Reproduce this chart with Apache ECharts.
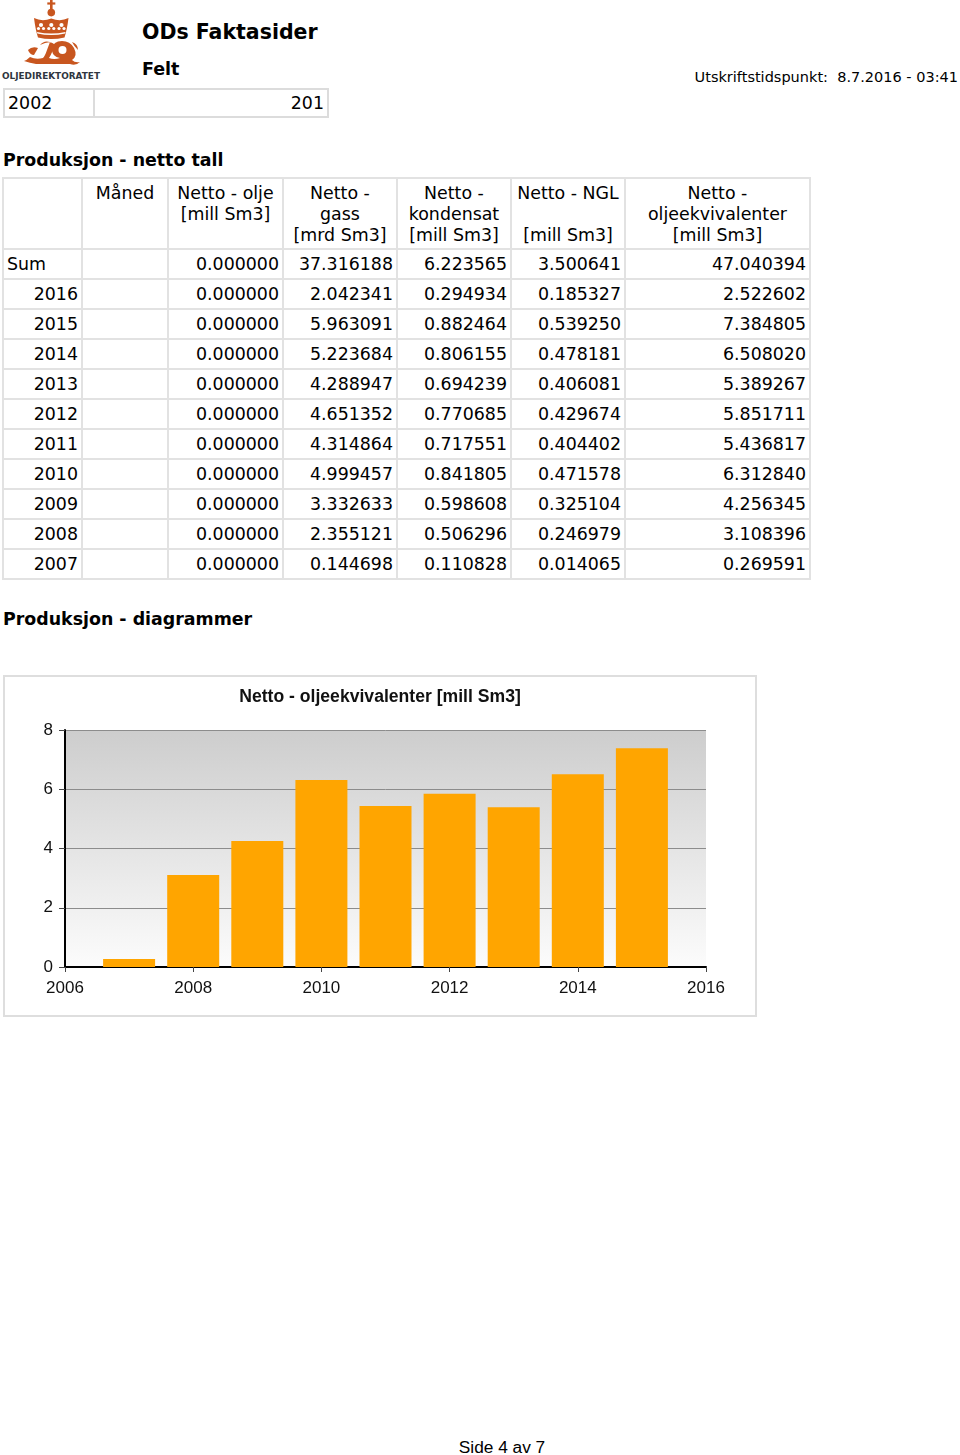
<!DOCTYPE html>
<html>
<head>
<meta charset="utf-8">
<script src="https://cdn.jsdelivr.net/npm/echarts@6/dist/echarts.min.js"></script>
<style>
  html, body { margin: 0; padding: 0; background: #fff; }
  body { width: 960px; height: 1455px; position: relative; overflow: hidden; font-family: "DejaVu Sans", Verdana, sans-serif; color: #000; }
  .abs { position: absolute; white-space: nowrap; }
  #logo { position: absolute; left: 0; top: 0; width: 104px; height: 84px; }
  #title1 { left: 142px; top: 20px; font-weight: bold; font-size: 20.5px; }
  #title2 { left: 142px; top: 59px; font-weight: bold; font-size: 17.5px; }
  #printed { right: 2px; top: 69px; font-size: 14.5px; }
  #feltbox { position: absolute; left: 3px; top: 88px; border-collapse: collapse; }
  #feltbox td { border: 2px solid #dcdcdc; height: 26px; padding: 0 3px; font-size: 17.4px; line-height: 26px; }
  #h1 { left: 3px; top: 150px; font-weight: bold; font-size: 17.4px; }
  #h2 { left: 3px; top: 609px; font-weight: bold; font-size: 17.4px; }
  #tbl { position: absolute; left: 2px; top: 177px; border-collapse: collapse; table-layout: fixed; }
  #tbl td, #tbl th { border: 2px solid #e2e2e2; font-size: 17.4px; padding: 0 3px; white-space: nowrap; overflow: hidden; }
  #tbl th { font-weight: normal; vertical-align: top; text-align: center; line-height: 21px; padding-top: 4px; height: 65px; }
  #tbl td { height: 28px; line-height: 28px; text-align: right; }
  #tbl td.sum { text-align: left; }
  #chartwrap { position: absolute; left: 3px; top: 675px; width: 750px; height: 338px; border: 2px solid #dedede; }
  #chart { width: 750px; height: 338px; }
  #footer { left: 0; width: 1004px; text-align: center; top: 1441px; line-height: 13px; font-family: "Liberation Sans", Arial, sans-serif; font-size: 17.3px; }
</style>
</head>
<body>
<svg id="logo" viewBox="0 0 104 84" xmlns="http://www.w3.org/2000/svg">
  <g fill="#c8561f">
    <rect x="50" y="0" width="2.6" height="9"/>
    <rect x="47.3" y="2.4" width="8" height="2.2"/>
    <circle cx="51.3" cy="12.6" r="3.8"/>
    <path d="M34 18 Q42 22 51.3 18.5 Q60.5 22 68.5 18 Q67 30 64.5 37.5 Q51.3 40.5 38 37.5 Q35.5 30 34 18 Z"/>
    <path d="M40 45 Q44 40 50 42 L47 50 Q45 56 43 58 Q36 60 30 57 Q27 60 24 61 Q30 63 36 64 L70 64 Q76 66 80 62 Q75 63 72 60 Q78 56 74 48 Q70 41 62 41 Q53 41 52 49 Q52 57 60 58 Q54 60 49 58 Q53 52 54 44 Q50 40 40 45 Z"/>
    <path d="M28 50 Q32 46 38 48 L34 55 Q30 55 28 50 Z"/>
    <path d="M72 42 Q78 44 78 50 Q74 46 72 42 Z"/>
  </g>
  <g fill="#ffffff">
    <circle cx="41" cy="25" r="2.1"/><circle cx="51.3" cy="25" r="2.1"/><circle cx="61.5" cy="25" r="2.1"/>
    <circle cx="38.5" cy="28.5" r="1.6"/><circle cx="43.5" cy="28.5" r="1.6"/>
    <circle cx="48.8" cy="28.5" r="1.6"/><circle cx="53.8" cy="28.5" r="1.6"/>
    <circle cx="59" cy="28.5" r="1.6"/><circle cx="64" cy="28.5" r="1.6"/>
    <path d="M37 32 Q51.3 35 65.5 32 L65.2 33.5 Q51.3 36.5 37.3 33.5 Z"/>
    <circle cx="62.5" cy="50" r="4"/>
  </g>
  <text x="2" y="78.5" textLength="98" lengthAdjust="spacingAndGlyphs" font-family="DejaVu Sans, sans-serif" font-weight="bold" font-size="9" fill="#2f3640">OLJEDIREKTORATET</text>
</svg>

<div class="abs" id="title1">ODs Faktasider</div>
<div class="abs" id="title2">Felt</div>
<div class="abs" id="printed">Utskriftstidspunkt:&nbsp;&nbsp;8.7.2016 - 03:41</div>

<table id="feltbox"><tr>
  <td style="width:82px; text-align:left;">2002</td>
  <td style="width:226px; text-align:right;">201</td>
</tr></table>

<div class="abs" id="h1">Produksjon - netto tall</div>
<table id="tbl"></table>
<div class="abs" id="h2">Produksjon - diagrammer</div>

<div id="chartwrap"><div id="chart"></div></div>

<div class="abs" id="footer">Side 4 av 7</div>

<script>
// ---- table data ----
var headers = ["", "Måned", "Netto - olje<br>[mill Sm3]", "Netto -<br>gass<br>[mrd Sm3]", "Netto -<br>kondensat<br>[mill Sm3]", "Netto - NGL<br><br>[mill Sm3]", "Netto -<br>oljeekvivalenter<br>[mill Sm3]"];
var rowLabels = ["Sum", "2016", "2015", "2014", "2013", "2012", "2011", "2010", "2009", "2008", "2007"];
var oil       = ["0.000000","0.000000","0.000000","0.000000","0.000000","0.000000","0.000000","0.000000","0.000000","0.000000","0.000000"];
var gas       = ["37.316188","2.042341","5.963091","5.223684","4.288947","4.651352","4.314864","4.999457","3.332633","2.355121","0.144698"];
var condensate= ["6.223565","0.294934","0.882464","0.806155","0.694239","0.770685","0.717551","0.841805","0.598608","0.506296","0.110828"];
var ngl       = ["3.500641","0.185327","0.539250","0.478181","0.406081","0.429674","0.404402","0.471578","0.325104","0.246979","0.014065"];
var oe        = ["47.040394","2.522602","7.384805","6.508020","5.389267","5.851711","5.436817","6.312840","4.256345","3.108396","0.269591"];

// ---- chart data ----
var chartTitle = "Netto - oljeekvivalenter [mill Sm3]";
var chartYears = [2007, 2008, 2009, 2010, 2011, 2012, 2013, 2014, 2015];
var chartValues = [0.269591, 3.108396, 4.256345, 6.312840, 5.436817, 5.851711, 5.389267, 6.508020, 7.384805];

// build table
var colW = [79, 86, 115, 114, 114, 114, 185];
var html = "<colgroup>" + colW.map(function(w){return '<col style="width:' + w + 'px">';}).join("") + "</colgroup><tr>";
headers.forEach(function(h){ html += "<th>" + h + "</th>"; });
html += "</tr>";
rowLabels.forEach(function(r, i){
  html += "<tr><td" + (i === 0 ? ' class="sum"' : '') + ">" + r + "</td><td></td><td>" + oil[i] + "</td><td>" + gas[i] + "</td><td>" + condensate[i] + "</td><td>" + ngl[i] + "</td><td>" + oe[i] + "</td></tr>";
});
document.getElementById("tbl").innerHTML = html;

// chart
var chart = echarts.init(document.getElementById("chart"), null, { renderer: "canvas" });
var font = "Liberation Sans, Arial, sans-serif";
chart.setOption({
  animation: false,
  backgroundColor: "#ffffff",
  title: {
    text: chartTitle, left: "center", top: 6,
    textStyle: { fontFamily: font, fontSize: 17.6, fontWeight: "bold", color: "#111" }
  },
  grid: {
    left: 60, right: 49, top: 53, bottom: 48, show: true, borderWidth: 0,
    backgroundColor: {
      type: "linear", x: 0, y: 0, x2: 0, y2: 1,
      colorStops: [{ offset: 0, color: "#cdcdcd" }, { offset: 1, color: "#fcfcfc" }]
    }
  },
  xAxis: {
    type: "value", min: 2006, max: 2016, interval: 2,
    axisLine: { show: true, lineStyle: { color: "#000", width: 2 } },
    axisTick: { show: true, length: 5, lineStyle: { color: "#444", width: 1 } },
    splitLine: { show: false },
    axisLabel: { fontFamily: font, fontSize: 17, color: "#111", margin: 13, formatter: function(v){ return String(v); } }
  },
  yAxis: {
    type: "value", min: 0, max: 8, interval: 2,
    axisLine: { show: true, lineStyle: { color: "#000", width: 2 } },
    axisTick: { show: true, length: 6, lineStyle: { color: "#444", width: 1 } },
    splitLine: { show: true, lineStyle: { color: "#8c8c8c", width: 1 } },
    axisLabel: { fontFamily: font, fontSize: 17, color: "#111", margin: 12 }
  },
  series: [{
    type: "bar",
    data: chartYears.map(function(y, i){ return [y, chartValues[i]]; }),
    barWidth: 52,
    itemStyle: { color: "#FFA500" }
  }]
});
</script>
</body>
</html>
